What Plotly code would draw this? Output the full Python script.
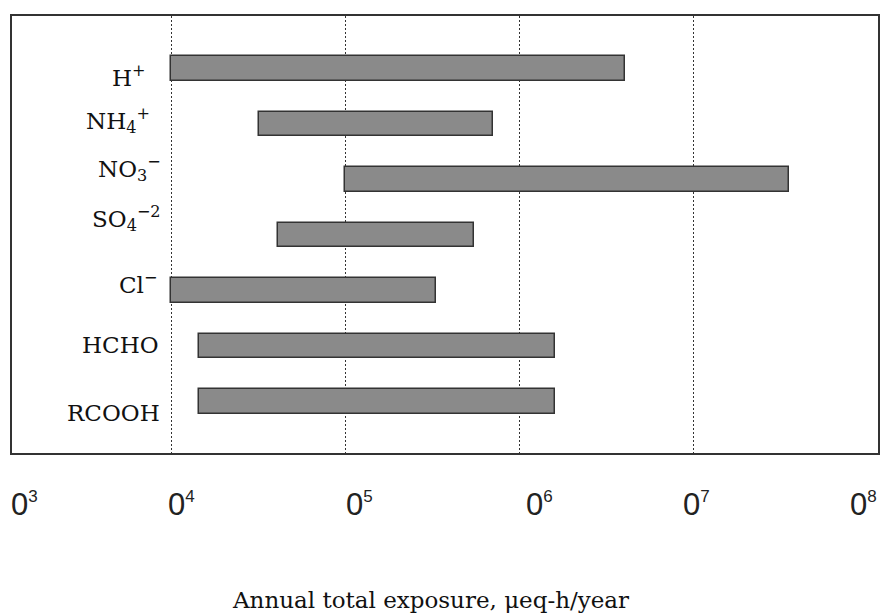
import math
import plotly.graph_objects as go

# ---- data ----
species = ["H+", "NH4+", "NO3-", "SO4-2", "Cl-", "HCHO", "RCOOH"]
species_labels = ["H<sup>+</sup>", "NH<sub>4</sub><sup>+</sup>", "NO<sub>3</sub><sup>−</sup>",
                  "SO<sub>4</sub><sup>−2</sup>", "Cl<sup>−</sup>", "HCHO", "RCOOH"]
exposure_low = [1.0e4, 3.2e4, 1.0e5, 4.1e4, 1.0e4, 1.45e4, 1.45e4]
exposure_high = [4.0e6, 7.0e5, 3.5e7, 5.5e5, 3.3e5, 1.6e6, 1.6e6]
grid_values = [1e4, 1e5, 1e6, 1e7]
tick_exponents = ["3", "4", "5", "6", "7", "8"]
x_title = "Annual total exposure, μeq-h/year"

# ---- layout constants (page has an 8px default body margin) ----
W, H = 880, 605
ML, MR, MT, MB = 4, 10, 8, 160
tick_label_x = [-0.0035, 0.1778, 0.3834, 0.5912, 0.7725, 0.965]   # paper
label_xshift = [-23, -19, -8, -8, -12, -10, -9]
label_yshift = [-7, 4, 11, 17, 8, 1, -11]

fig = go.Figure()
fig.add_trace(go.Bar(
    y=species,
    x=[h - l for l, h in zip(exposure_low, exposure_high)],
    base=exposure_low,
    orientation="h",
    width=0.44,
    marker=dict(color="#8a8a8a", line=dict(color="#333333", width=1.5)),
    showlegend=False,
    hoverinfo="skip",
))

annotations = []
for i, (cat, lab) in enumerate(zip(species, species_labels)):
    annotations.append(dict(
        x=math.log10(grid_values[0]), y=cat, xref="x", yref="y",
        text=lab, showarrow=False, xanchor="right", yanchor="middle",
        xshift=label_xshift[i], yshift=label_yshift[i],
        font=dict(family="DejaVu Serif", size=23, color="#111111"),
    ))
for tx, ex in zip(tick_label_x, tick_exponents):
    annotations.append(dict(
        x=tx, y=-0.117, xref="paper", yref="paper",
        text="0<sup><span style='font-size:17px'>" + ex + "</span></sup>",
        showarrow=False, xanchor="left", yanchor="middle",
        font=dict(family="Liberation Sans, Arial", size=31, color="#222222"),
    ))
annotations.append(dict(
    x=0.483, y=-0.336, xref="paper", yref="paper", text=x_title, showarrow=False,
    xanchor="center", yanchor="middle",
    font=dict(family="DejaVu Serif", size=23, color="#111111"),
))

fig.update_layout(
    width=W, height=H,
    margin=dict(l=ML, r=MR, t=MT, b=MB),
    paper_bgcolor="white", plot_bgcolor="white",
    annotations=annotations,
    bargap=0,
)
fig.update_xaxes(
    type="log", range=[3.086, 8.057],
    tickvals=grid_values, showticklabels=False, ticks="",
    showgrid=True, gridcolor="#333333", gridwidth=1, griddash="2px,2px",
    showline=True, mirror=True, linecolor="#333333", linewidth=1.5,
    zeroline=False, fixedrange=True,
)
fig.update_yaxes(
    type="category", categoryorder="array", categoryarray=species,
    range=[6.924, -0.947],
    showticklabels=False, ticks="", showgrid=False,
    showline=True, mirror=True, linecolor="#333333", linewidth=1.5,
    zeroline=False, fixedrange=True,
)

fig.write_html("out.html")
